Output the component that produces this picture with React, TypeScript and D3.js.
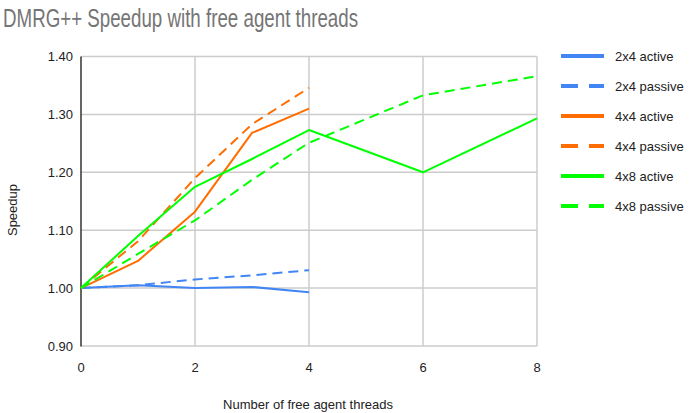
import React from "react";
import * as d3 from "d3";

const threads = [0, 1, 2, 3, 4, 6, 8];
const yTicks = [0.9, 1.0, 1.1, 1.2, 1.3, 1.4];
const xTicks = [0, 2, 4, 6, 8];

const a2x4 = [1.0, 1.005, 1.0, 1.002, 0.993, null, null];
const p2x4 = [1.0, 1.005, 1.015, 1.022, 1.031, null, null];
const a4x4 = [1.0, 1.047, 1.132, 1.268, 1.31, null, null];
const p4x4 = [1.0, 1.081, 1.19, 1.283, 1.346, null, null];
const a4x8 = [1.0, 1.09, 1.175, 1.223, 1.273, 1.2, 1.293];
const p4x8 = [1.0, 1.059, 1.117, 1.187, 1.251, 1.333, 1.366];

const seriesNames = ["2x4 active", "2x4 passive", "4x4 active", "4x4 passive", "4x8 active", "4x8 passive"];
const seriesValues = [a2x4, p2x4, a4x4, p4x4, a4x8, p4x8];
const seriesColors = ["#4285f4", "#4285f4", "#ff6d01", "#ff6d01", "#00ff00", "#00ff00"];
const seriesDashed = [false, true, false, true, false, true];

export default function App() {
  const W = 694, H = 413;
  const x = d3.scaleLinear().domain([0, 8]).range([81, 537]);
  const y = d3.scaleLinear().domain([0.9, 1.4]).range([346, 56.5]);
  const font = "Liberation Sans, Arial, sans-serif";
  return (
    <svg width={W} height={H} style={{ position: "absolute", left: 0, top: 0 }} fontFamily={font}>
      <rect width={W} height={H} fill="#fff" />
      <text x={3} y={26.5} fontSize={25} fill="#757575" fontFamily="Liberation Sans Narrow, Liberation Sans, Arial, sans-serif"
        textLength={355} lengthAdjust="spacingAndGlyphs">DMRG++ Speedup with free agent threads</text>
      {yTicks.map((t) => (
        <g key={"y" + t}>
          <line x1={81} x2={537} y1={y(t)} y2={y(t)} stroke="#cccccc" strokeWidth={1.5} />
          <text x={73} y={y(t) + 4.5} fontSize={13} textAnchor="end" fill="#222">{t.toFixed(2)}</text>
        </g>
      ))}
      {xTicks.map((t) => (
        <g key={"x" + t}>
          {t > 0 && <line x1={x(t)} x2={x(t)} y1={56.5} y2={346} stroke="#cccccc" strokeWidth={1.5} />}
          <text x={x(t)} y={372} fontSize={13} textAnchor="middle" fill="#222">{t}</text>
        </g>
      ))}
      <line x1={81} x2={81} y1={56.5} y2={346.5} stroke="#333" strokeWidth={1.5} />
      <text x={308} y={409} fontSize={13} textAnchor="middle" fill="#222">Number of free agent threads</text>
      <text transform={`translate(17,210) rotate(-90)`} fontSize={13} textAnchor="middle" fill="#222">Speedup</text>
      {seriesValues.map((vals, i) => {
        const pts = threads.map((t, j) => [t, vals[j]] as [number, number | null]).filter((p) => p[1] !== null) as [number, number][];
        const line = d3.line<[number, number]>().x((d) => x(d[0])).y((d) => y(d[1]));
        return (
          <path key={seriesNames[i]} d={line(pts) || ""} fill="none" stroke={seriesColors[i]} strokeWidth={2}
            strokeDasharray={seriesDashed[i] ? "10,6" : undefined} strokeLinejoin="round" />
        );
      })}
      {seriesNames.map((n, i) => {
        const ly = 56 + i * 30;
        return (
          <g key={"l" + n}>
            <line x1={561} x2={604} y1={ly} y2={ly} stroke={seriesColors[i]} strokeWidth={4}
              strokeDasharray={seriesDashed[i] ? "17,11" : undefined} />
            <text x={615} y={ly + 4.5} fontSize={13} fill="#222">{n}</text>
          </g>
        );
      })}
    </svg>
  );
}
